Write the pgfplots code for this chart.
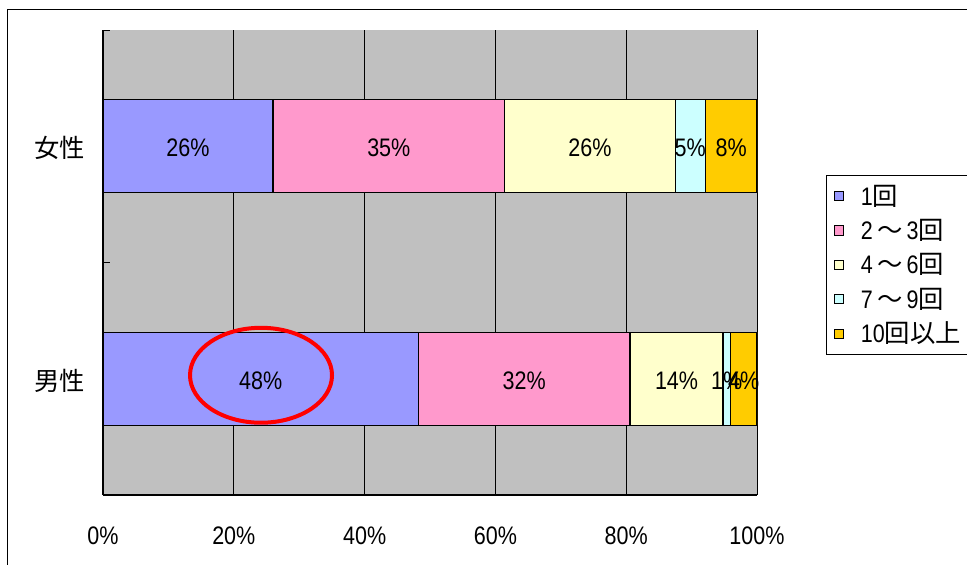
\documentclass[border=0pt]{standalone}
\usepackage{pgfplots}
\pgfplotsset{compat=1.18}
\usepackage{fontspec}
\setmainfont{Liberation Sans}[FakeStretch=0.85]
\newfontfamily\jp{Noto Sans CJK JP}
\definecolor{c1}{HTML}{9999FF}
\definecolor{c2}{HTML}{FF99CC}
\definecolor{c3}{HTML}{FFFFCC}
\definecolor{c4}{HTML}{CCFFFF}
\definecolor{c5}{HTML}{FFCC00}
\definecolor{bg}{HTML}{C0C0C0}
\newcommand{\tl}{\,{\jp ～}\,}
\begin{document}
\begin{tikzpicture}
\clip (0,0) rectangle (725.25pt,423pt);
\draw[line width=0.75pt] (5.25pt,-20pt) rectangle (760pt,415.5pt);
\begin{axis}[
  at={(77.25pt,51.75pt)}, anchor=south west,
  scale only axis, width=490.5pt, height=348.75pt,
  xbar stacked, bar width=0.4,
  xmin=0, xmax=100, ymin=-0.5, ymax=1.5,
  axis x line*=bottom, axis y line*=left,
  axis line style={line width=1pt},
  axis background/.style={fill=bg},
  xmajorgrids, grid style={black, line width=0.6pt},
  xtick={0,20,40,60,80,100},
  xticklabels={0\%,20\%,40\%,60\%,80\%,100\%},
  ytick={0,1}, yticklabels={{\jp 男性},{\jp 女性}},
  major tick length=0pt,
  extra y ticks={-0.5,0.5,1.5}, extra y tick labels={},
  extra y tick style={major tick length=5pt, tick align=inside, tick style={black, line width=0.6pt}},
  /pgf/number format/assume math mode=true,
  tick label style={font=\fontsize{19}{22}\selectfont},
  xticklabel style={yshift=-20pt},
  yticklabel style={xshift=-10pt, yshift=-1.5pt},
  legend style={at={(1.1055,0.6875)}, anchor=north west, draw=black, line width=0.6pt,
    font=\fontsize{19}{22}\selectfont, row sep=5pt, inner xsep=5.5pt, inner ysep=5pt,
    /tikz/every odd column/.append style={column sep=11pt}},
  legend cell align=left,
  legend image code/.code={\draw[#1,draw=black,line width=0.6pt] (0pt,-3.4pt) rectangle (6.75pt,3.4pt);},
]
\addplot[fill=c1, draw=black, line width=1pt] coordinates {(48.2,0) (26.0,1)};
\addlegendentry{1{\jp 回}}
\addplot[fill=c2, draw=black, line width=1pt] coordinates {(32.4,0) (35.4,1)};
\addlegendentry{2\tl 3{\jp 回}}
\addplot[fill=c3, draw=black, line width=1pt] coordinates {(14.2,0) (26.1,1)};
\addlegendentry{4\tl 6{\jp 回}}
\addplot[fill=c4, draw=black, line width=1pt] coordinates {(1.1,0) (4.6,1)};
\addlegendentry{7\tl 9{\jp 回}}
\addplot[fill=c5, draw=black, line width=1pt] coordinates {(4.1,0) (7.9,1)};
\addlegendentry{10{\jp 回以上}}
\end{axis}
\begin{axis}[
  at={(77.25pt,51.75pt)}, anchor=south west,
  scale only axis, width=490.5pt, height=348.75pt,
  xmin=0, xmax=100, ymin=-0.5, ymax=1.5,
  hide axis, clip=false,
]
\addplot[draw=none, nodes near coords={\pgfplotspointmeta\%}, point meta=explicit symbolic,
  nodes near coords style={anchor=center, font=\fontsize{19}{22}\selectfont, inner sep=0pt, yshift=-1.5pt}]
  table[meta=label] {
x y label
24.10 0 48
64.40 0 32
87.70 0 14
95.35 0 1
97.95 0 4
13.00 1 26
43.70 1 35
74.45 1 26
89.80 1 5
96.05 1 8
};
\draw[red, line width=3pt] (axis cs:24.16,0.015) ellipse [x radius=53.25pt, y radius=35.6pt];
\end{axis}
\end{tikzpicture}
\end{document}
